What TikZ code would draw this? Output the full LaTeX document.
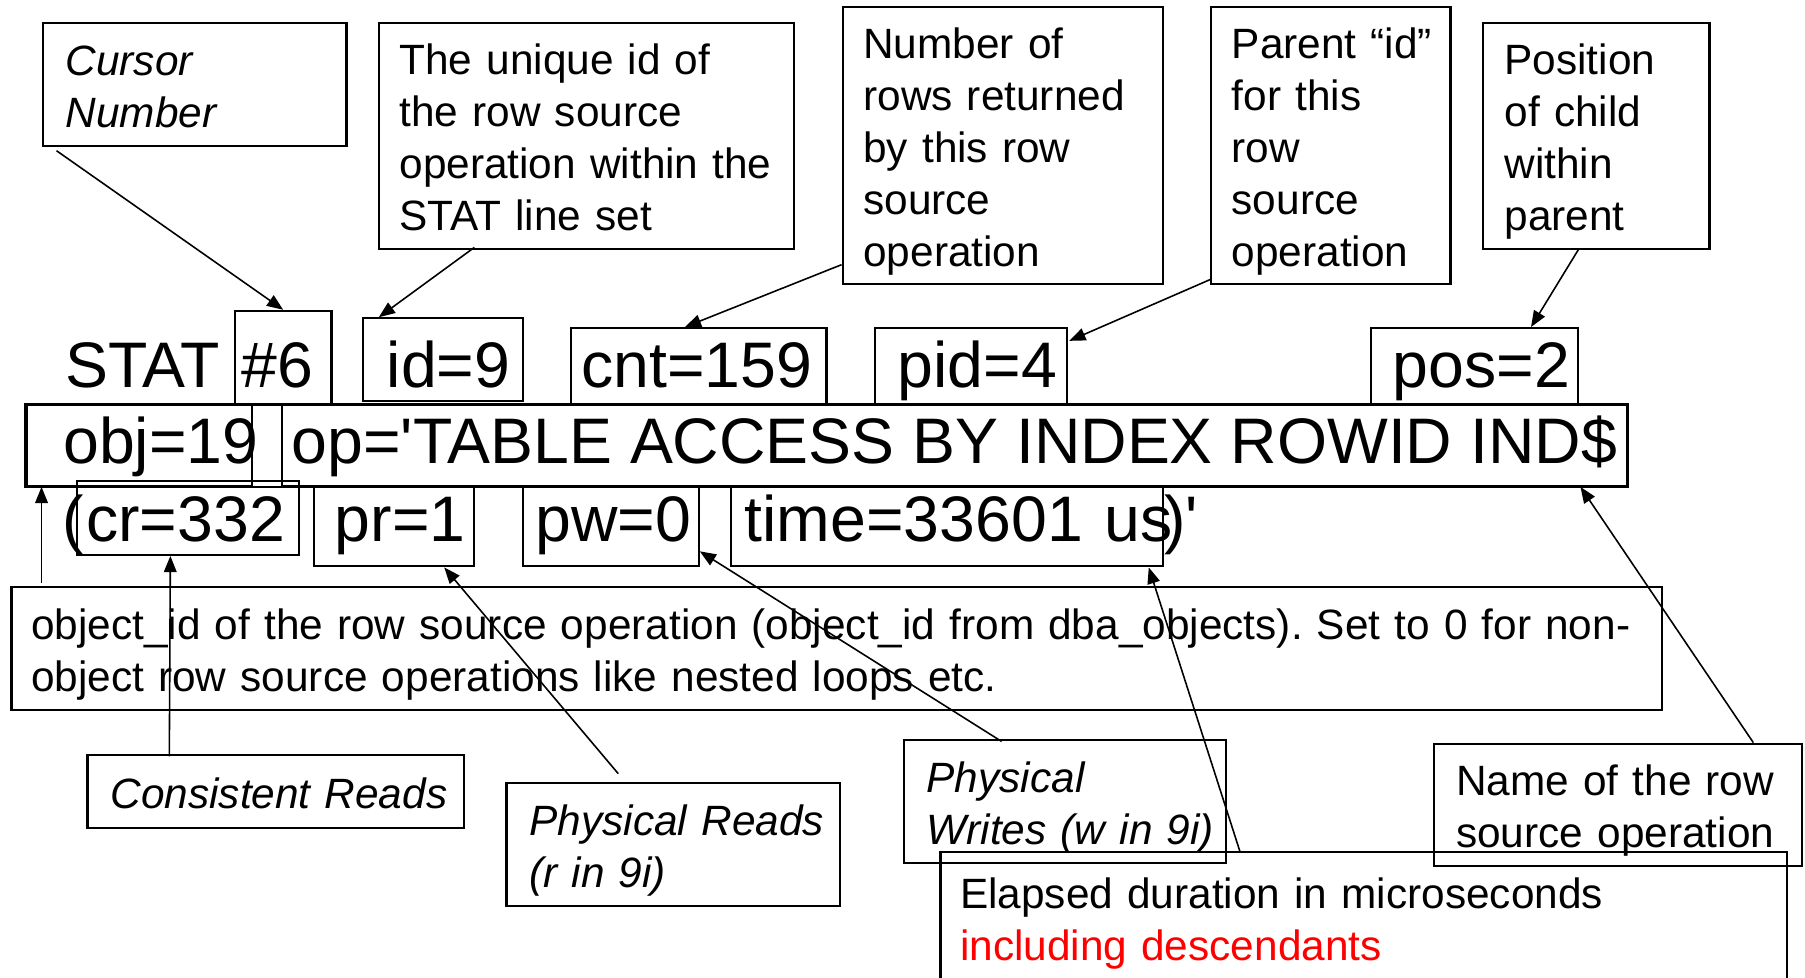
\documentclass[tikz,border=0pt]{standalone}
\usepackage{fontspec}
\setmainfont{Liberation Sans}
\usetikzlibrary{arrows.meta, positioning, fit, calc}

\newdimen\unitpx \unitpx=0.011512cm
\newcommand{\notefont}{\fontsize{12.05pt}{14.74pt}\selectfont}
\newcommand{\statfont}{\fontsize{18.3pt}{22pt}\selectfont}
\frenchspacing

\begin{document}
\begin{tikzpicture}[
    x=\unitpx, y=-\unitpx,
    >={Triangle[length=4.6pt, width=3.6pt]},
    every node/.style={font=\notefont},
    note/.style={
        draw=black, line width=0.6pt, align=left, inner ysep=0pt,
        text height=30\unitpx
    },
    inote/.style={note, font=\notefont\itshape},
    field/.style={
        draw=black, line width=0.6pt, inner sep=0pt, font=\statfont,
        align=left, text height=48\unitpx, text depth=12\unitpx
    },
    bare/.style={field, draw=none},
    pointer/.style={draw=black, line width=0.45pt, ->}
]
\useasboundingbox (0,0) rectangle (1568,849);
\clip (0,0) rectangle (1568,849);

% Callouts above the line
\node[inote, inner xsep=20\unitpx, text width=224\unitpx, text depth=46\unitpx,
      minimum height=107\unitpx] (cursor) at (169,73.5)
    {Cursor\\Number};
\node[note, inner xsep=18\unitpx, text width=325\unitpx, text depth=136\unitpx,
      minimum height=196\unitpx] (uniqueid) at (509.5,118)
    {The unique id of\\the row source\\\mbox{operation within the}\\STAT line set};
\node[note, inner xsep=18\unitpx, text width=242\unitpx, text depth=181\unitpx,
      minimum height=241\unitpx] (numrows) at (871,126.5)
    {Number of\\rows returned\\by this row\\source\\operation};
\node[note, inner xsep=18\unitpx, text width=172\unitpx, text depth=181\unitpx,
      minimum height=241\unitpx] (parentid) at (1156,126.5)
    {\mbox{Parent “id”}\\for this\\row\\source\\operation};
\node[note, inner xsep=19\unitpx, text width=159\unitpx, text depth=136\unitpx,
      minimum height=196\unitpx] (position) at (1386.5,118)
    {Position\\of child\\within\\parent};

% STAT line, first row
\node[bare, text height=52\unitpx] (stat) at (124,316.5) {STAT};
\node[field, inner xsep=6\unitpx, text width=72\unitpx,
      minimum height=82\unitpx, text height=63\unitpx] (hash) at (246,311) {\#6};
\node[field, inner xsep=21\unitpx, text width=97\unitpx,
      minimum height=55\unitpx, text height=60\unitpx] (idnum) at (384.5,312.5) {id=9};
\node[field, inner xsep=9\unitpx, text width=204\unitpx,
      minimum height=67\unitpx] (cnt) at (607,318.5) {cnt=159};
\node[field, inner xsep=20\unitpx, text width=127\unitpx,
      minimum height=67\unitpx] (pid) at (843.5,318.5) {pid=4};
\node[field, inner xsep=19\unitpx, text width=142\unitpx,
      minimum height=67\unitpx] (pos) at (1281,318.5) {pos=2};

% second row
\node[field, inner xsep=32\unitpx, text width=132\unitpx,
      minimum height=70\unitpx, text height=44\unitpx] (obj) at (121,387)
    {obj=19};
\node[field, minimum width=1168\unitpx, minimum height=70\unitpx,
      text height=44\unitpx] (op) at (829,387)
    {op=\textquotesingle TABLE ACCESS BY INDEX ROWID IND\$};
\node[draw=black, line width=0.6pt, inner sep=0pt, fit=(obj)(op)] (oprow) {};

% third row
\node[bare, text height=52\unitpx] (lparen) at (63.5,450) {(};
\node[field, inner xsep=8\unitpx, text width=177\unitpx,
      minimum height=56\unitpx, text height=52\unitpx] (cr) at (163.5,450) {cr=332};
\node[field, inner xsep=18\unitpx, text width=103\unitpx,
      minimum height=70\unitpx, text height=38\unitpx] (pr) at (342.5,457) {pr=1};
\node[field, inner xsep=11\unitpx, text width=131\unitpx,
      minimum height=70\unitpx, text height=38\unitpx] (pw) at (530.5,457) {pw=0};
\node[field, inner xsep=12\unitpx, text width=351\unitpx,
      minimum height=70\unitpx, text height=38\unitpx] (time) at (822.5,457)
    {time=33601~us};
\node[bare, text height=52\unitpx] (rparen) at (1026,450)
    {)\textquotesingle};

% Callouts below the line
\node[note, inner xsep=17\unitpx, text width=1400\unitpx, text depth=46\unitpx,
      minimum height=107\unitpx] (objdesc) at (727,563.5)
    {\mbox{object\_id of the row source operation (object\_id from dba\_objects). Set to 0 for non-}\\
     object row source operations like nested loops etc.};
\node[inote, inner xsep=20\unitpx, text width=287\unitpx, text depth=1\unitpx,
      minimum height=63\unitpx] (consistent) at (239.5,687.5)
    {\mbox{Consistent Reads}};
\node[inote, inner xsep=20\unitpx, text width=250\unitpx, text depth=46\unitpx,
      minimum height=107\unitpx] (physreads) at (585,733.5)
    {\mbox{Physical Reads}\\(r in 9i)};
\node[inote, inner xsep=20\unitpx, text width=240\unitpx, text depth=46\unitpx,
      minimum height=107\unitpx] (physwrites) at (925,696.5)
    {Physical\\\mbox{Writes (w in 9i)}};
\node[note, inner xsep=19\unitpx, text width=281\unitpx, text depth=46\unitpx,
      minimum height=106\unitpx] (rowname) at (1405.5,699)
    {Name of the row\\\mbox{source operation}};
\node[note, inner xsep=17\unitpx, text width=701\unitpx, text depth=46\unitpx,
      minimum height=113\unitpx] (elapsed) at (1184.5,797)
    {Elapsed duration in microseconds\\\textcolor{red}{including descendants}};

% Pointers
\draw[pointer] ([shift={(13,3)}]cursor.south west) -- (hash.north);
\draw[pointer] ([shift={(84,-2)}]uniqueid.south west)
    -- ([shift={(15,0)}]idnum.north west);
\draw[pointer] ([shift={(0,-18)}]numrows.south west)
    -- ([shift={(-12,0)}]cnt.north);
\draw[pointer] ([shift={(0,-5)}]parentid.south west)
    -- ([shift={(1,12)}]pid.north east);
\draw[pointer] ([shift={(84,0)}]position.south west)
    -- ([shift={(49,0)}]pos.north);
\draw[pointer] ([shift={(27,-3)}]objdesc.north west)
    -- ([shift={(14,0)}]obj.south west);
\draw[pointer] ([shift={(72,2)}]consistent.north west)
    -- ([shift={(-15.5,0)}]cr.south);
\draw[pointer] ([shift={(98,-7)}]physreads.north west)
    -- ([shift={(-27,0)}]pr.south east);
\draw[pointer] ([shift={(86,2)}]physwrites.north west)
    -- ([shift={(0,-14)}]pw.south east);
\draw[pointer] ([shift={(261,0)}]elapsed.north west)
    -- ([shift={(-13,0)}]time.south east);
\draw[pointer] ([shift={(278,0)}]rowname.north west)
    -- ([shift={(-41,0)}]op.south east);

\end{tikzpicture}
\end{document}
